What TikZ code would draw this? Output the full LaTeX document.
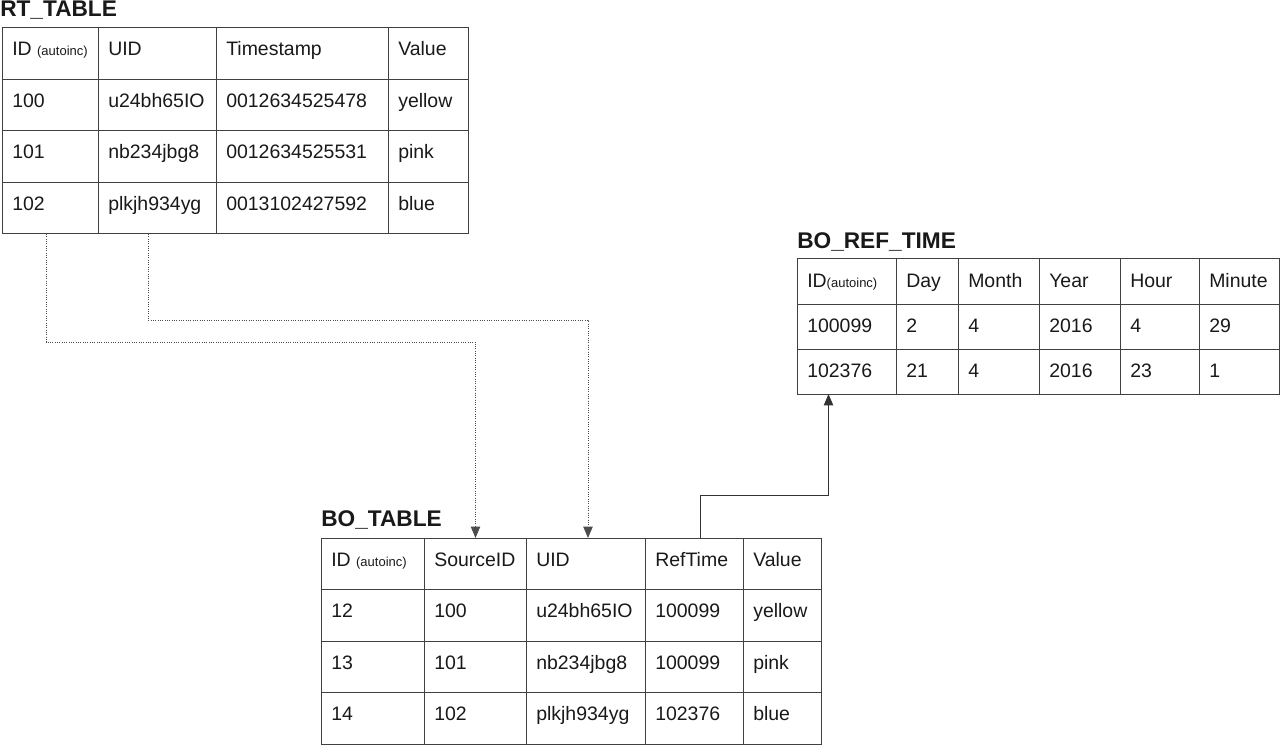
\documentclass[tikz,border=0pt]{standalone}
\usepackage{fontspec}
\setmainfont{Liberation Sans}
\usetikzlibrary{arrows.meta,calc}
\tikzset{
  cellbox/.style={draw=black!75, line width=0.75pt, inner sep=0pt, outer sep=0pt, rectangle},
  celltext/.style={inner sep=0pt, font=\fontsize{14.6}{17}\selectfont, text=black!90},
  tabletitle/.style={inner sep=0pt, anchor=base west, font=\bfseries\fontsize{17}{20}\selectfont, text=black!90},
  dotconn/.style={draw=black!70, line width=0.75pt, densely dotted, -{Triangle[length=8.5pt,width=7pt]}},
  solidconn/.style={draw=black!80, line width=0.75pt, -{Triangle[length=8.5pt,width=7pt]}},
}
\newcommand\mycell[6]{%
  \node[cellbox, anchor=north west, minimum width={(#4-#2)*0.75pt}, minimum height={(#5-#3)*0.75pt}] (#1) at (#2,#3) {};
  \node[celltext, anchor=base west] (#1-t) at ([xshift=7.5pt,yshift=-21pt]#1.north west) {#6};
}
\newcommand\ai{{\fontsize{9.75}{11}\selectfont(autoinc)}}
\begin{document}
\begin{tikzpicture}[x=0.75pt,y=-0.75pt]
\useasboundingbox (0,0) rectangle (1281,745);

% ---------- RT_TABLE ----------
\node[tabletitle] (rt-title) at (0,17) {RT\_TABLE};
\foreach \c/\xa/\xb/\tx in {1/2/98/{ID \ai}, 2/98/216/{UID}, 3/216/388/{Timestamp}, 4/388/468/{Value}}
  {\mycell{rt-1-\c}{\xa}{28}{\xb}{80}{\tx}}
\foreach \c/\xa/\xb/\tx in {1/2/98/{100}, 2/98/216/{u24bh65IO}, 3/216/388/{0012634525478}, 4/388/468/{yellow}}
  {\mycell{rt-2-\c}{\xa}{80}{\xb}{131}{\tx}}
\foreach \c/\xa/\xb/\tx in {1/2/98/{101}, 2/98/216/{nb234jbg8}, 3/216/388/{0012634525531}, 4/388/468/{pink}}
  {\mycell{rt-3-\c}{\xa}{131}{\xb}{183}{\tx}}
\foreach \c/\xa/\xb/\tx in {1/2/98/{102}, 2/98/216/{plkjh934yg}, 3/216/388/{0013102427592}, 4/388/468/{blue}}
  {\mycell{rt-4-\c}{\xa}{183}{\xb}{234}{\tx}}

% ---------- BO_REF_TIME ----------
\node[tabletitle] (ref-title) at (797,249) {BO\_REF\_TIME};
\foreach \c/\xa/\xb/\tx in {1/797/896/{ID\ai}, 2/896/958/{Day}, 3/958/1039/{Month}, 4/1039/1120/{Year}, 5/1120/1199/{Hour}, 6/1199/1279/{Minute}}
  {\mycell{ref-1-\c}{\xa}{259}{\xb}{304}{\tx}}
\foreach \c/\xa/\xb/\tx in {1/797/896/{100099}, 2/896/958/{2}, 3/958/1039/{4}, 4/1039/1120/{2016}, 5/1120/1199/{4}, 6/1199/1279/{29}}
  {\mycell{ref-2-\c}{\xa}{304}{\xb}{349}{\tx}}
\foreach \c/\xa/\xb/\tx in {1/797/896/{102376}, 2/896/958/{21}, 3/958/1039/{4}, 4/1039/1120/{2016}, 5/1120/1199/{23}, 6/1199/1279/{1}}
  {\mycell{ref-3-\c}{\xa}{349}{\xb}{394}{\tx}}

% ---------- BO_TABLE ----------
\node[tabletitle] (bo-title) at (321,526) {BO\_TABLE};
\foreach \c/\xa/\xb/\tx in {1/321/424/{ID \ai}, 2/424/526/{SourceID}, 3/526/645/{UID}, 4/645/743/{RefTime}, 5/743/821/{Value}}
  {\mycell{bo-1-\c}{\xa}{538}{\xb}{589}{\tx}}
\foreach \c/\xa/\xb/\tx in {1/321/424/{12}, 2/424/526/{100}, 3/526/645/{u24bh65IO}, 4/645/743/{100099}, 5/743/821/{yellow}}
  {\mycell{bo-2-\c}{\xa}{589}{\xb}{641}{\tx}}
\foreach \c/\xa/\xb/\tx in {1/321/424/{13}, 2/424/526/{101}, 3/526/645/{nb234jbg8}, 4/645/743/{100099}, 5/743/821/{pink}}
  {\mycell{bo-3-\c}{\xa}{641}{\xb}{692}{\tx}}
\foreach \c/\xa/\xb/\tx in {1/321/424/{14}, 2/424/526/{102}, 3/526/645/{plkjh934yg}, 4/645/743/{102376}, 5/743/821/{blue}}
  {\mycell{bo-4-\c}{\xa}{692}{\xb}{744}{\tx}}

% ---------- connectors ----------
\coordinate (rtA) at (46,234);
\coordinate (rtB) at (148,234);
\coordinate (boA) at (475.5,538);
\coordinate (boB) at (588,538);
\coordinate (boC) at (700,538);
\coordinate (refC) at (828.5,394);
\draw[dotconn] (rtA) -- ++(0,108) -| (boA);
\draw[dotconn] (rtB) -- ++(0,86) -| (boB);
\draw[solidconn] (boC) -- ++(0,-43) -| (refC);
\end{tikzpicture}
\end{document}
